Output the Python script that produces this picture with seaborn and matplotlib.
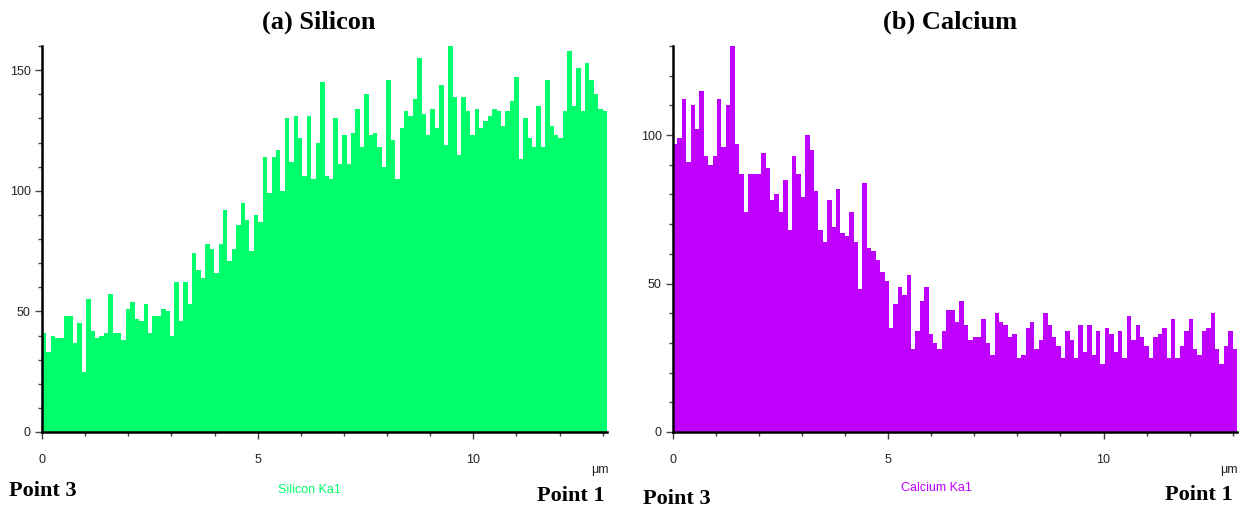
"""EDX line scan profiles: Silicon and Calcium along the scan line."""

import matplotlib.pyplot as plt
import numpy as np
import pandas as pd
import seaborn as sns
from matplotlib.ticker import MultipleLocator


LINE_LENGTH_UM = 13.1

SILICON_COUNTS = [
    41, 33, 40, 39, 39, 48, 48, 37, 45, 25,
    55, 42, 39, 40, 41, 57, 41, 41, 38, 51,
    54, 47, 46, 53, 41, 48, 48, 51, 50, 40,
    62, 46, 62, 53, 74, 67, 64, 78, 76, 66,
    78, 92, 71, 76, 86, 95, 88, 75, 90, 87,
    114, 99, 114, 117, 100, 130, 112, 131, 122, 106,
    131, 105, 120, 145, 106, 105, 130, 111, 123, 111,
    124, 134, 118, 140, 123, 124, 118, 110, 146, 121,
    105, 126, 133, 131, 138, 155, 132, 123, 134, 126,
    144, 119, 160, 139, 115, 139, 133, 123, 134, 126,
    129, 131, 134, 133, 127, 133, 137, 147, 113, 130,
    122, 118, 135, 118, 146, 127, 123, 122, 133, 158,
    135, 151, 133, 153, 146, 140, 134, 133,
]

CALCIUM_COUNTS = [
    97, 99, 112, 91, 110, 102, 115, 93, 90, 93,
    112, 96, 110, 130, 97, 87, 74, 87, 87, 87,
    94, 89, 78, 80, 74, 85, 68, 93, 87, 79,
    100, 95, 81, 68, 64, 78, 69, 82, 67, 66,
    74, 64, 48, 84, 62, 61, 58, 54, 51, 35,
    43, 49, 46, 53, 28, 34, 44, 49, 33, 30,
    28, 34, 41, 41, 37, 44, 36, 31, 32, 32,
    38, 30, 26, 40, 37, 36, 32, 33, 25, 26,
    35, 37, 28, 31, 40, 36, 32, 29, 25, 34,
    31, 25, 36, 27, 36, 26, 34, 23, 35, 33,
    27, 34, 25, 39, 31, 36, 32, 29, 25, 32,
    33, 35, 25, 38, 25, 29, 34, 38, 28, 26,
    34, 35, 40, 28, 23, 29, 34, 28,
]

PANELS = [
    {
        "title": "(a) Silicon",
        "counts": SILICON_COUNTS,
        "color": "#00FF6A",
        "line": "Silicon Ka1",
        "ymax": 160,
        "rect": [42 / 1240, 77 / 509, 565 / 1240, 386 / 509],
    },
    {
        "title": "(b) Calcium",
        "counts": CALCIUM_COUNTS,
        "color": "#C000FF",
        "line": "Calcium Ka1",
        "ymax": 130,
        "rect": [673 / 1240, 77 / 509, 564 / 1240, 386 / 509],
    },
]


def draw_profile(fig, panel):
    """Draw one line-scan profile as a filled step histogram."""
    counts = panel["counts"]
    step = LINE_LENGTH_UM / len(counts)
    profile = pd.DataFrame({
        "position": (np.arange(len(counts)) + 0.5) * step,
        "counts": counts,
    })

    ax = fig.add_axes(panel["rect"])
    sns.histplot(
        data=profile,
        x="position",
        weights="counts",
        binwidth=step,
        binrange=(0, LINE_LENGTH_UM),
        element="step",
        fill=True,
        color=panel["color"],
        alpha=1,
        linewidth=0,
        ax=ax,
    )
    ax.set_xlim(0, LINE_LENGTH_UM)
    ax.set_ylim(0, panel["ymax"])
    ax.set_xlabel("")
    ax.set_ylabel("")
    ax.set_facecolor("white")

    ax.xaxis.set_major_locator(MultipleLocator(5))
    ax.xaxis.set_minor_locator(MultipleLocator(1))
    ax.yaxis.set_major_locator(MultipleLocator(50))
    ax.yaxis.set_minor_locator(MultipleLocator(10))
    ax.tick_params(which="major", length=5, width=1, color="#444444",
                   labelsize=9, labelcolor="#222222")
    ax.tick_params(which="minor", length=3, width=1, color="#444444")
    ax.tick_params(axis="x", which="major", pad=11)
    ax.tick_params(axis="y", which="major", pad=3)

    sns.despine(ax=ax)
    for side in ("left", "bottom"):
        ax.spines[side].set_linewidth(1.8)
        ax.spines[side].set_color("black")
    return ax


sns.set_theme(style="ticks")
plt.rcParams["font.family"] = ["Liberation Sans", "DejaVu Sans"]

fig = plt.figure(figsize=(12.4, 5.09), dpi=100)
fig.patch.set_facecolor("white")

for panel in PANELS:
    draw_profile(fig, panel)

serif_bold = {"family": "Liberation Serif", "weight": "bold", "color": "black"}

fig.text(319 / 1240, 1 - 22 / 509, "(a) Silicon", ha="center", va="center", fontsize=19, **serif_bold)
fig.text(950 / 1240, 1 - 22 / 509, "(b) Calcium", ha="center", va="center", fontsize=19, **serif_bold)

fig.text(9 / 1240, 1 - 491 / 509, "Point 3", ha="left", va="center", fontsize=16, **serif_bold)
fig.text(605 / 1240, 1 - 496 / 509, "Point 1", ha="right", va="center", fontsize=16, **serif_bold)
fig.text(643 / 1240, 1 - 499 / 509, "Point 3", ha="left", va="center", fontsize=16, **serif_bold)
fig.text(1233 / 1240, 1 - 495 / 509, "Point 1", ha="right", va="center", fontsize=16, **serif_bold)

fig.text(309 / 1240, 1 - 490 / 509, PANELS[0]["line"], ha="center", va="center",
         fontsize=9, color=PANELS[0]["color"])
fig.text(936 / 1240, 1 - 488 / 509, PANELS[1]["line"], ha="center", va="center",
         fontsize=9, color=PANELS[1]["color"])

fig.text(600 / 1240, 1 - 470 / 509, "μm", ha="center", va="center", fontsize=9, color="#222222")
fig.text(1229 / 1240, 1 - 470 / 509, "μm", ha="center", va="center", fontsize=9, color="#222222")

fig.savefig("out.png", dpi=100, facecolor="white")
